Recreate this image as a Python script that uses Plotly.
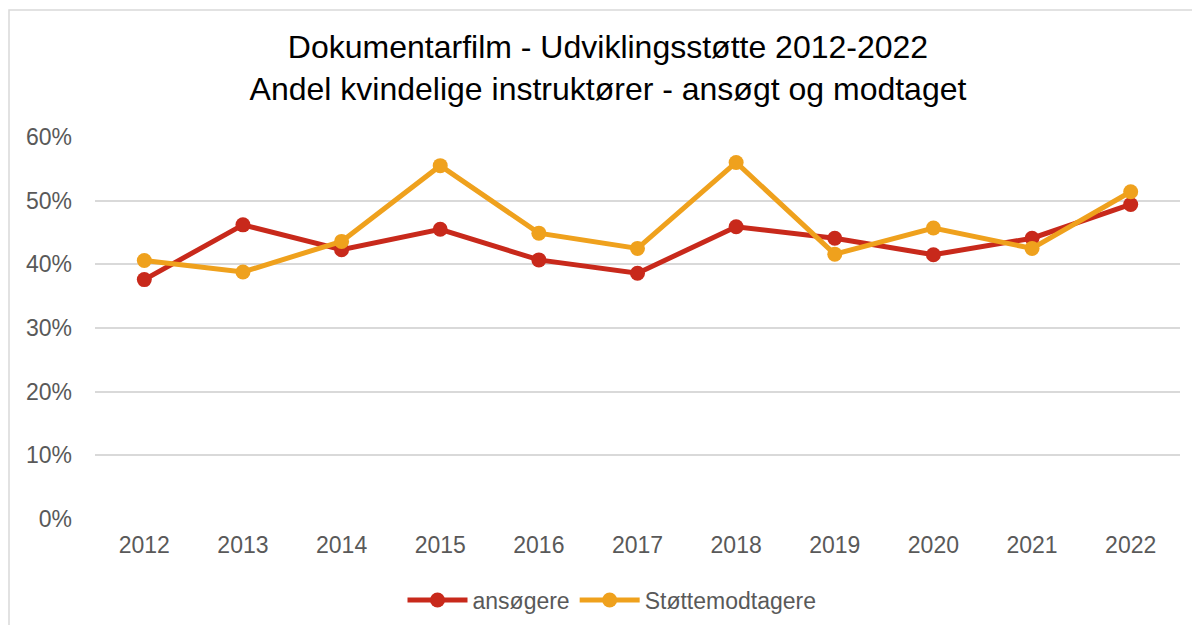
import plotly.graph_objects as go

years = ["2012", "2013", "2014", "2015", "2016", "2017", "2018", "2019", "2020", "2021", "2022"]
ansoegere = [0.376, 0.462, 0.423, 0.455, 0.407, 0.386, 0.459, 0.441, 0.415, 0.441, 0.494]
stoettemodtagere = [0.406, 0.388, 0.436, 0.555, 0.449, 0.425, 0.560, 0.416, 0.457, 0.425, 0.514]
y_ticks = [0, 0.1, 0.2, 0.3, 0.4, 0.5, 0.6]
y_tick_labels = ["0%", "10%", "20%", "30%", "40%", "50%", "60%"]

RED = "#C8291B"
ORANGE = "#EFA11D"
FONT = "Liberation Sans, Arial, sans-serif"

fig = go.Figure()
fig.add_trace(go.Scatter(x=years, y=ansoegere, name="ansøgere", mode="lines+markers",
                         line=dict(color=RED, width=5), marker=dict(color=RED, size=15)))
fig.add_trace(go.Scatter(x=years, y=stoettemodtagere, name="Støttemodtagere", mode="lines+markers",
                         line=dict(color=ORANGE, width=5), marker=dict(color=ORANGE, size=15)))

# page body has an 8px margin, so figure coordinates = screen coordinates - 8
OFF = 8
W, H = 1200, 625
L, T = 95 - OFF, 137 - OFF
pw, ph = 1085, 382
R = W - L - pw
B = H - T - ph

fig.update_layout(
    width=W, height=H,
    margin=dict(l=L, r=R, t=T, b=B, autoexpand=False),
    paper_bgcolor="white", plot_bgcolor="white",
    font=dict(family=FONT, color="#595959", size=23),
    title=dict(text="Dokumentarfilm - Udviklingsstøtte 2012-2022<br>Andel kvindelige instruktører - ansøgt og modtaget",
               x=(608 - OFF) / W, xanchor="center", xref="container",
               y=1 - 50 / H, yanchor="top", yref="container", automargin=False,
               font=dict(family=FONT, size=32, color="#000000")),
    xaxis=dict(range=[-0.5, 10.5], showgrid=False, zeroline=False, showline=False, ticks="",
               automargin=False,
               tickfont=dict(size=23, color="#595959"), ticklabelstandoff=10),
    yaxis=dict(range=[0, 0.6], tickvals=y_ticks, ticktext=y_tick_labels, automargin=False,
               showgrid=True, gridcolor="#D9D9D9", gridwidth=1.5, zeroline=False, showline=False,
               ticks="", tickfont=dict(size=23, color="#595959"), ticklabelstandoff=22),
    legend=dict(orientation="h", x=(612 - 95) / pw, xanchor="center",
                y=-(600 - 519) / ph, yanchor="middle",
                font=dict(size=23, color="#595959"), itemwidth=60, bgcolor="rgba(0,0,0,0)"),
    showlegend=True,
)

fig.add_shape(type="rect", xref="paper", yref="paper",
              x0=(9 - 95) / pw, x1=(1215 - 95) / pw,
              y0=-(640 - 519) / ph, y1=1 + (137 - 10) / ph,
              line=dict(color="#D9D9D9", width=1.5), fillcolor="rgba(0,0,0,0)", layer="below")

fig.write_html("out.html")
